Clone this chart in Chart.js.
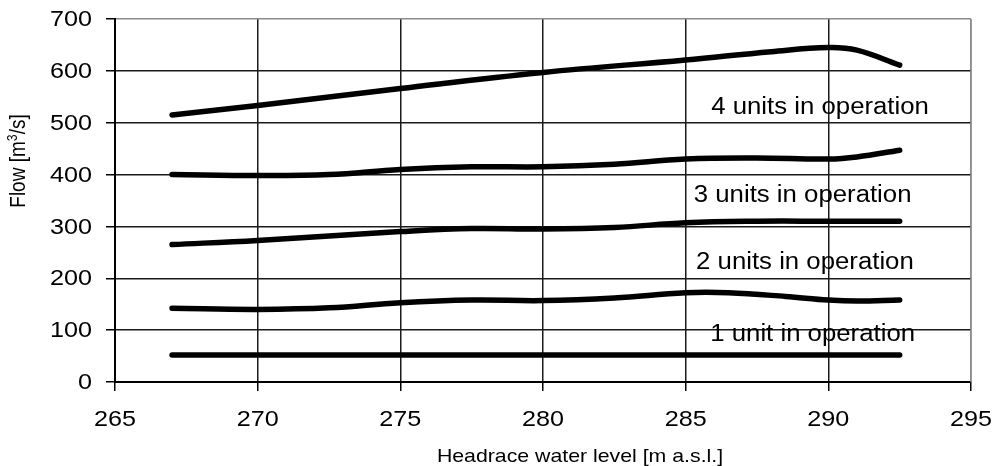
<!DOCTYPE html>
<html>
<head>
<meta charset="utf-8">
<script src="https://cdn.jsdelivr.net/npm/chart.js@4/dist/chart.umd.min.js"></script>
<style>
  html, body { margin: 0; padding: 0; background: #ffffff; }
  #wrap { width: 997px; height: 466px; position: relative; }
</style>
</head>
<body>
<div id="wrap"><canvas id="chart" width="997" height="466"></canvas></div>
<script>
// Headrace water level [m a.s.l.] vs. flow [m3/s] per number of units running
const levels4 = [267, 270, 275, 280, 285, 288, 290, 291, 292.5];
const flow4   = [515, 533, 566, 597, 621, 637, 645, 640, 611];

const levels3 = [267, 270, 272.5, 275, 277.5, 280, 282.5, 285, 287.5, 290, 291, 292.5];
const flow3   = [400, 398, 400, 410, 415, 415, 420, 430, 432, 430, 434, 447];

const levels2 = [267, 270, 275, 277.5, 280, 282.5, 285, 287.5, 290, 292.5];
const flow2   = [265, 273, 290, 296, 295, 298, 307, 310, 310, 310];

const levels1 = [267, 270, 272.5, 275, 277.5, 280, 282.5, 285, 286.5, 288.5, 290, 291, 292.5];
const flow1   = [142, 140, 143, 153, 158, 157, 162, 172, 172, 165, 158, 156, 158];

const levels0 = [267, 292.5];
const flow0   = [52, 52];

// Curve captions: text, anchor level, anchor flow
const captionTexts  = ['4 units in operation', '3 units in operation', '2 units in operation', '1 unit in operation'];
const captionLevels = [289.71, 289.10, 289.18, 289.45];
const captionFlows  = [530, 359, 230, 91];

const xTicks = [265, 270, 275, 280, 285, 290, 295];
const yTicks = [0, 100, 200, 300, 400, 500, 600, 700];

const xTitle = 'Headrace water level [m a.s.l.]';
const yTitleParts = ['Flow [m', '3', '/s]'];

const FONT = "'Liberation Sans', Arial, sans-serif";
const SX = 1.12; // glyphs are set slightly wide

function pts(xs, ys) { return xs.map((x, i) => ({ x: x, y: ys[i] })); }

// draw text widened horizontally by SX, anchored at (x, y)
function wideText(ctx, text, x, y, size, align, baseline) {
  ctx.save();
  ctx.font = size + 'px ' + FONT;
  ctx.textBaseline = baseline || 'middle';
  ctx.textAlign = 'left';
  const w = ctx.measureText(text).width * SX;
  let left = x;
  if (align === 'center') left = x - w / 2;
  else if (align === 'right') left = x - w;
  ctx.translate(left, y);
  ctx.scale(SX, 1);
  ctx.fillText(text, 0, 0);
  ctx.restore();
}

const lineStyle = {
  borderColor: '#000000',
  borderWidth: 5.5,
  pointRadius: 0,
  tension: 0.4,
  fill: false,
  borderCapStyle: 'round',
  borderJoinStyle: 'round'
};

const textPlugin = {
  id: 'texts',
  afterDraw(chart) {
    const { ctx, scales: { x, y }, chartArea: a } = chart;
    ctx.save();
    ctx.fillStyle = '#000000';

    // right frame edge
    ctx.strokeStyle = '#8c8c8c';
    ctx.lineWidth = 1.5;
    ctx.beginPath();
    ctx.moveTo(a.right, a.top);
    ctx.lineTo(a.right, a.bottom);
    ctx.stroke();

    // y tick labels
    y.ticks.forEach(t => {
      wideText(ctx, String(t.value), a.left - 23, y.getPixelForValue(t.value) + 1, 22.5, 'right');
    });
    // x tick labels
    x.ticks.forEach(t => {
      wideText(ctx, String(t.value), x.getPixelForValue(t.value), a.bottom + 38, 22.5, 'center');
    });

    // captions
    captionTexts.forEach((t, i) => {
      wideText(ctx, t, x.getPixelForValue(captionLevels[i]), y.getPixelForValue(captionFlows[i]), 23, 'center');
    });

    // x title
    wideText(ctx, xTitle, 580, 461.5, 19, 'center', 'alphabetic');

    // y title (rotated, with superscript)
    ctx.save();
    const size = 19;
    ctx.font = size + 'px ' + FONT;
    const w0 = ctx.measureText(yTitleParts[0]).width;
    const w2 = ctx.measureText(yTitleParts[2]).width;
    ctx.font = (size * 0.65) + 'px ' + FONT;
    const w1 = ctx.measureText(yTitleParts[1]).width;
    const total = w0 + w1 + w2;
    ctx.translate(19, 161);
    ctx.rotate(-Math.PI / 2);
    ctx.scale(1, SX);
    ctx.textBaseline = 'middle';
    ctx.textAlign = 'left';
    let px = -total / 2;
    ctx.font = size + 'px ' + FONT;
    ctx.fillText(yTitleParts[0], px, 0);
    px += w0;
    ctx.font = (size * 0.65) + 'px ' + FONT;
    ctx.fillText(yTitleParts[1], px, -5);
    px += w1;
    ctx.font = size + 'px ' + FONT;
    ctx.fillText(yTitleParts[2], px, 0);
    ctx.restore();

    ctx.restore();
  }
};

new Chart(document.getElementById('chart'), {
  type: 'line',
  data: {
    datasets: [
      Object.assign({ label: '4 units', data: pts(levels4, flow4) }, lineStyle),
      Object.assign({ label: '3 units', data: pts(levels3, flow3) }, lineStyle),
      Object.assign({ label: '2 units', data: pts(levels2, flow2) }, lineStyle),
      Object.assign({ label: '1 unit',  data: pts(levels1, flow1) }, lineStyle),
      Object.assign({ label: 'minimum', data: pts(levels0, flow0) }, lineStyle)
    ]
  },
  options: {
    responsive: false,
    animation: false,
    layout: { padding: { left: 0, top: 19, right: 26, bottom: 0 } },
    plugins: { legend: { display: false }, tooltip: { enabled: false } },
    scales: {
      x: {
        type: 'linear',
        min: 265,
        max: 295,
        afterBuildTicks(scale) { scale.ticks = xTicks.map(v => ({ value: v })); },
        afterFit(scale) { scale.height = 84; },
        border: { display: true, color: '#000000', width: 2 },
        grid: {
          color: ctx => (ctx.tick && ctx.tick.value === 295) ? '#8c8c8c' : '#1a1a1a',
          lineWidth: 1.5,
          tickLength: 9,
          tickColor: '#000000'
        },
        ticks: { display: false },
        title: { display: false }
      },
      y: {
        type: 'linear',
        min: 0,
        max: 700,
        afterBuildTicks(scale) { scale.ticks = yTicks.map(v => ({ value: v })); },
        afterFit(scale) { scale.width = 115; },
        border: { display: true, color: '#000000', width: 2 },
        grid: {
          color: ctx => (ctx.tick && ctx.tick.value === 700) ? '#8c8c8c' : '#1a1a1a',
          lineWidth: 1.5,
          tickLength: 9,
          tickColor: '#000000'
        },
        ticks: { display: false },
        title: { display: false }
      }
    }
  },
  plugins: [textPlugin]
});
</script>
</body>
</html>
